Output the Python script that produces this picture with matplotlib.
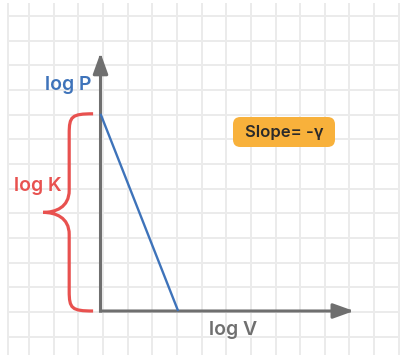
import matplotlib
matplotlib.use("Agg")
import matplotlib.pyplot as plt
import numpy as np
from matplotlib.path import Path
from matplotlib.patches import PathPatch, FancyArrowPatch, FancyBboxPatch

# Adiabatic process on log-log axes: log P = log K - gamma * log V
log_k = 8.0            # intercept on the log P axis
v_intercept = 3.15     # where the line meets the log V axis
line_v = [0.0, v_intercept]
line_p = [log_k, 0.0]

axis_labels = ["log V", "log P"]
brace_label = "log K"
slope_label = "Slope= -\u03b3"

BLUE = "#3e73ba"
RED = "#e8514f"
GREY = "#6f6f6f"
ORANGE = "#f8b13b"
GRID = "#ebebeb"

plt.rcParams["font.family"] = ["Inter", "DejaVu Sans"]

fig = plt.figure(figsize=(4.0, 3.55), dpi=100)
ax = fig.add_axes([0, 0, 1, 1])
unit = 24.65  # pixels per grid unit
ax.set_xlim(-100.5 / unit, (400 - 100.5) / unit)
ax.set_ylim(-(355 - 311) / unit, 311 / unit)
ax.axis("off")

# squared paper background
x_left = -3.75
for gx in [x_left] + list(0.1 + np.arange(-3, 13)):
    ax.plot([gx, gx], [-2, 12.5], color=GRID, lw=1.4, zorder=0, solid_capstyle="butt")
for gy in -0.04 + np.arange(-1, 13):
    ax.plot([x_left, 13], [gy, gy], color=GRID, lw=1.4, zorder=0, solid_capstyle="butt")

# coordinate axes with arrow heads
arrow_style = "-|>,head_length=1.25,head_width=0.45"
for end in [(10.28, 0.0), (0.0, 10.47)]:
    ax.add_patch(FancyArrowPatch((0, 0), end, arrowstyle=arrow_style,
                                 mutation_scale=10, color=GREY, lw=2.2,
                                 shrinkA=0, shrinkB=0, zorder=3,
                                 capstyle="projecting"))

# the straight line
ax.plot(line_v, line_p, color=BLUE, lw=1.7, zorder=4, solid_capstyle="butt")

# curly brace spanning log K
xe, xs, xt = -0.3, -1.27, -2.33
r = 0.8
mid = log_k / 2
verts = [
    (xe, log_k),
    (xs + 0.1, log_k), (xs, log_k - 0.1), (xs, log_k - r),
    (xs, mid + 0.9),
    (xs, mid + 0.2), (xt + 0.5, mid), (xt, mid),
    (xt + 0.5, mid), (xs, mid - 0.2), (xs, mid - 0.9),
    (xs, r),
    (xs, 0.1), (xs + 0.1, 0.0), (xe, 0.0),
]
codes = ([Path.MOVETO] + [Path.CURVE4] * 3 + [Path.LINETO] + [Path.CURVE4] * 6
         + [Path.LINETO] + [Path.CURVE4] * 3)
ax.add_patch(PathPatch(Path(verts, codes), facecolor="none", edgecolor=RED,
                       lw=2.3, capstyle="butt", zorder=4))

# labels
ax.text((68 - 100.5) / unit, (311 - 85) / unit, axis_labels[1], color=BLUE,
        fontsize=14, fontweight="semibold", ha="center", va="center")
ax.text((38 - 100.5) / unit, (311 - 186) / unit, brace_label, color=RED,
        fontsize=14, fontweight="semibold", ha="center", va="center")
ax.text((233 - 100.5) / unit, (311 - 330) / unit, axis_labels[0], color=GREY,
        fontsize=14, fontweight="semibold", ha="center", va="center")

bx0, bx1 = (233 - 100.5) / unit, (335 - 100.5) / unit
by0, by1 = (311 - 147) / unit, (311 - 117) / unit
ax.add_patch(FancyBboxPatch((bx0, by0), bx1 - bx0, by1 - by0,
                            boxstyle="round,pad=0,rounding_size=0.3",
                            facecolor=ORANGE, edgecolor="none", zorder=5))
ax.text((bx0 + bx1) / 2, (by0 + by1) / 2, slope_label, color="#2a2a2a",
        fontsize=12, fontweight="semibold", ha="center", va="center", zorder=6)

fig.savefig("out.png", dpi=100)
